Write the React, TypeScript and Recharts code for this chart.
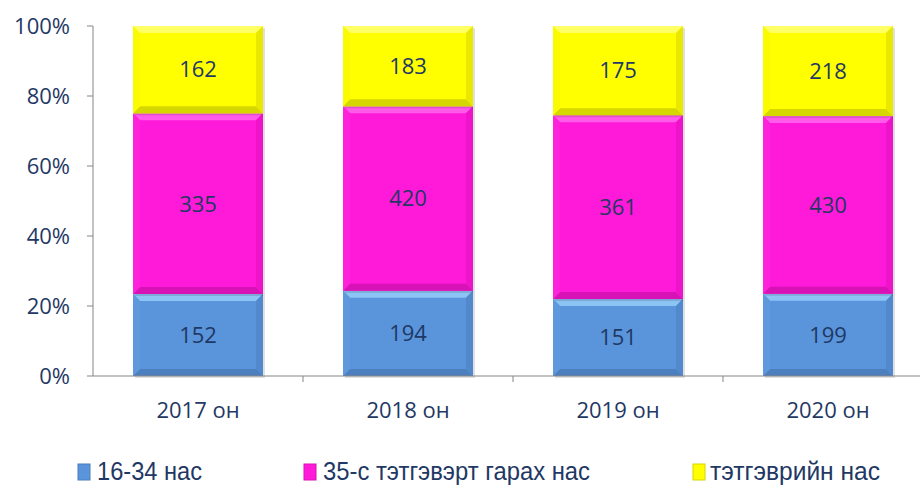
import { BarChart, Bar, XAxis, YAxis, Legend, LabelList } from 'recharts';

const categories = ['2017 он', '2018 он', '2019 он', '2020 он'];
const youth = [152, 194, 151, 199];
const midAge = [335, 420, 361, 430];
const pension = [162, 183, 175, 218];
const yTicks = [0, 0.2, 0.4, 0.6, 0.8, 1];
const seriesNames = ['16-34 нас', '35-с тэтгэвэрт гарах нас', 'тэтгэврийн нас'];

const data = categories.map((name, i) => ({ name, youth: youth[i], midAge: midAge[i], pension: pension[i] }));

const TEXT = '#1F3864';
const AXIS = '#868686';
const FONT = '"Open Sans", sans-serif';

const palettes = {
  youth: { base: '#5A94DB', light: '#8CC4F4', dark: '#4C7FBE', left: '#5F98DD', right: '#5289CC' },
  midAge: { base: '#FF1AD9', light: '#FF5AEA', dark: '#D813B6', left: '#FF22DB', right: '#EE14CA' },
  pension: { base: '#FFFF00', light: '#FFFF66', dark: '#D6D600', left: '#FAFA00', right: '#E8E800' },
};

type Pal = typeof palettes.youth;

function BevelBar(props: any & { pal: Pal }) {
  const { x, y, width, height, pal } = props;
  if (!height || height <= 0) return null;
  const b = Math.min(7, height / 2, width / 2);
  const x2 = x + width;
  const y2 = y + height;
  return (
    <g>
      <rect x={x + 2} y={y + 2} width={width} height={height} fill="#000" opacity={0.12} />
      <rect x={x} y={y} width={width} height={height} fill={pal.base} />
      <polygon points={`${x},${y} ${x2},${y} ${x2 - b},${y + b} ${x + b},${y + b}`} fill={pal.light} />
      <polygon points={`${x},${y2} ${x2},${y2} ${x2 - b},${y2 - b} ${x + b},${y2 - b}`} fill={pal.dark} />
      <polygon points={`${x},${y} ${x + b},${y + b} ${x + b},${y2 - b} ${x},${y2}`} fill={pal.left} />
      <polygon points={`${x2},${y} ${x2 - b},${y + b} ${x2 - b},${y2 - b} ${x2},${y2}`} fill={pal.right} />
    </g>
  );
}

function CategoryTick(props: any) {
  const { x, y, payload } = props;
  const off = payload && payload.offset ? payload.offset : 0;
  return (
    <g>
      <line x1={x + off} y1={y} x2={x + off} y2={y + 6} stroke={AXIS} />
      <text x={x} y={y + 42} textAnchor="middle" fill={TEXT} fontSize={22} fontFamily={FONT}>
        {payload.value}
      </text>
    </g>
  );
}

const legendItems = [
  { name: seriesNames[0], pal: palettes.youth, mx: 78, tx: 97, tw: 105 },
  { name: seriesNames[1], pal: palettes.midAge, mx: 304, tx: 323, tw: 267 },
  { name: seriesNames[2], pal: palettes.pension, mx: 693, tx: 710, tw: 170 },
];

function LegendBox() {
  return (
    <div style={{ height: 30 }}>
      <svg width={933} height={30} style={{ display: 'block' }}>
        {legendItems.map(it => (
          <g key={it.name}>
            <rect x={it.mx} y={8} width={12} height={16} fill={it.pal.base} stroke={it.pal.dark} strokeWidth={1} />
            <text
              x={it.tx}
              y={24}
              fontSize={25}
              fontFamily='"Liberation Sans", sans-serif'
              fill={TEXT}
              textLength={it.tw}
              lengthAdjust="spacingAndGlyphs"
            >
              {it.name}
            </text>
          </g>
        ))}
      </svg>
    </div>
  );
}

export default function App() {
  return (
    <div style={{ position: 'fixed', left: 0, top: 0, width: 920, height: 486, overflow: 'hidden', background: '#fff' }}>
      <BarChart
        width={940}
        height={486}
        data={data}
        stackOffset="expand"
        barSize={130}
        margin={{ top: 26, right: 7, bottom: 0, left: 0 }}
      >
        <XAxis
          dataKey="name"
          height={80}
          stroke={AXIS}
          tickLine={false}
          tickSize={0}
          tickMargin={0}
          tick={<CategoryTick />}
        />
        <YAxis
          width={93}
          domain={[0, 1]}
          ticks={yTicks}
          tickFormatter={(v: number) => `${Math.round(v * 100)}%`}
          stroke={AXIS}
          tickSize={6}
          tickMargin={17}
          tick={{ fill: TEXT, fontSize: 22, fontFamily: FONT }}
        />
        <Legend verticalAlign="bottom" align="left" height={30} content={() => <LegendBox />} />
        <Bar dataKey="youth" name={seriesNames[0]} stackId="a" isAnimationActive={false}
          shape={(p: any) => <BevelBar {...p} pal={palettes.youth} />}>
          <LabelList dataKey="youth" position="center" fill={TEXT} fontSize={22} fontFamily={FONT} />
        </Bar>
        <Bar dataKey="midAge" name={seriesNames[1]} stackId="a" isAnimationActive={false}
          shape={(p: any) => <BevelBar {...p} pal={palettes.midAge} />}>
          <LabelList dataKey="midAge" position="center" fill={TEXT} fontSize={22} fontFamily={FONT} />
        </Bar>
        <Bar dataKey="pension" name={seriesNames[2]} stackId="a" isAnimationActive={false}
          shape={(p: any) => <BevelBar {...p} pal={palettes.pension} />}>
          <LabelList dataKey="pension" position="center" fill={TEXT} fontSize={22} fontFamily={FONT} />
        </Bar>
      </BarChart>
    </div>
  );
}
